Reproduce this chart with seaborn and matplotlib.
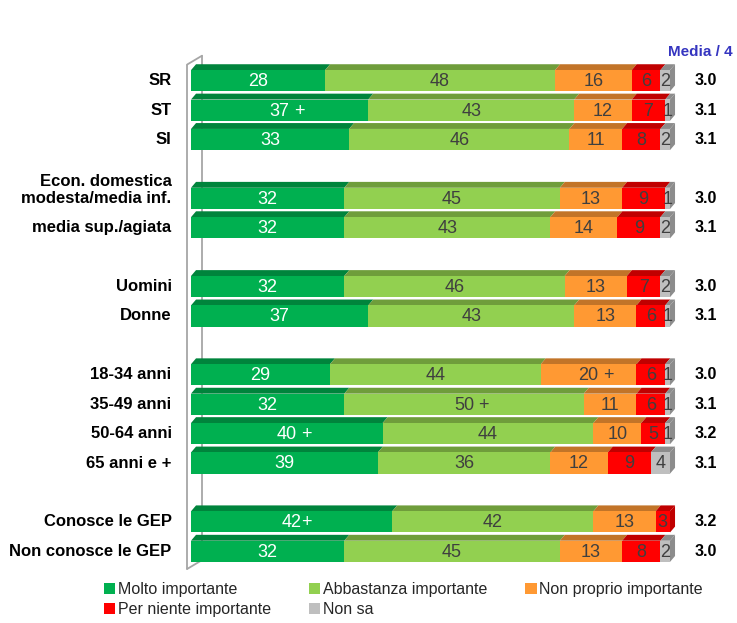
import numpy as np
import pandas as pd
import matplotlib
matplotlib.use("Agg")
import matplotlib.pyplot as plt
import seaborn as sns
from matplotlib.patches import Polygon, Patch
from matplotlib import font_manager


# ── Data ───────────────────────────────────────────────────────────────────────

labels = ["SR", "ST", "SI",
          "Econ. domestica\nmodesta/media inf.", "media sup./agiata",
          "Uomini", "Donne",
          "18-34 anni", "35-49 anni", "50-64 anni", "65 anni e +",
          "Conosce le GEP", "Non conosce le GEP"]
positions = [0, 1, 2, 4, 5, 7, 8, 10, 11, 12, 13, 15, 16]

molto       = [28, 37, 33, 32, 32, 32, 37, 29, 32, 40, 39, 42, 32]
abbastanza  = [48, 43, 46, 45, 43, 46, 43, 44, 50, 44, 36, 42, 45]
non_proprio = [16, 12, 11, 13, 14, 13, 13, 20, 11, 10, 12, 13, 13]
per_niente  = [6, 7, 8, 9, 9, 7, 6, 6, 6, 5, 9, 3, 8]
non_sa      = [2, 1, 2, 1, 2, 2, 1, 1, 1, 1, 4, 0, 2]

# significance markers appended to some numbers
molto_sig       = ["", " +", "", "", "", "", "", "", "", " +", "", "+", ""]
abbastanza_sig  = ["", "", "", "", "", "", "", "", " +", "", "", "", ""]
non_proprio_sig = ["", "", "", "", "", "", "", " +", "", "", "", "", ""]
no_sig          = [""] * 13

media = ["3.0", "3.1", "3.1", "3.0", "3.1", "3.0", "3.1",
         "3.0", "3.1", "3.2", "3.1", "3.2", "3.0"]

series_names = ["Molto importante", "Abbastanza importante",
                "Non proprio importante", "Per niente importante", "Non sa"]
colors     = ["#00B050", "#92D050", "#FF9933", "#FF0000", "#BFBFBF"]
top_colors = ["#00843C", "#6F9D3B", "#C27428", "#C00000", "#8C8C8C"]
txt_colors = ["white", "#3F3F3F", "#3F3F3F", "#3F3F3F", "#3F3F3F"]

df = pd.DataFrame({"label": labels, "pos": positions})
for name, vals in zip(series_names,
                      [molto, abbastanza, non_proprio, per_niente, non_sa]):
    df[name] = vals
sigs = [molto_sig, abbastanza_sig, non_proprio_sig, no_sig, no_sig]

values = df[series_names].to_numpy()
cum = values.cumsum(axis=1)
starts = cum - values

# ── Figure ─────────────────────────────────────────────────────────────────────

sns.set_style("white")
plt.rcParams["font.family"] = ["Liberation Sans", "DejaVu Sans"]

installed = {f.name for f in font_manager.fontManager.ttflist}
if "Liberation Sans Narrow" in installed:
    num_font, num_size = "Liberation Sans Narrow", 14.5
else:
    num_font, num_size = "Liberation Sans", 13

fig = plt.figure(figsize=(7.37, 6.23), dpi=100)
ax = fig.add_axes([191 / 737, 1 - 566 / 623, 479 / 737, 500 / 623])

BAR_W = 0.72      # face height (row units)
TOP_H = 0.20      # 3D top depth
DX = 1.05         # 3D shear (percent units)
half = BAR_W / 2

# stacked bars: draw cumulative totals from the widest down
for i in reversed(range(len(series_names))):
    df[f"cum{i}"] = cum[:, i]
    sns.barplot(data=df, x=f"cum{i}", y="pos", orient="y", native_scale=True,
                color=colors[i], saturation=1, width=BAR_W, errorbar=None,
                linewidth=0, ax=ax, zorder=3)

# 3D top faces + right side face
for r, p in enumerate(positions):
    last = None
    for i in range(len(series_names)):
        if values[r, i] <= 0:
            continue
        l, rr = starts[r, i], cum[r, i]
        ax.add_patch(Polygon([(l, p - half), (rr, p - half),
                              (rr + DX, p - half - TOP_H), (l + DX, p - half - TOP_H)],
                             closed=True, facecolor=top_colors[i], edgecolor="none",
                             zorder=2, clip_on=False))
        last = i
    end = cum[r, -1]
    ax.add_patch(Polygon([(end, p + half), (end, p - half),
                          (end + DX, p - half - TOP_H), (end + DX, p + half - TOP_H)],
                         closed=True, facecolor=top_colors[last], edgecolor="none",
                         zorder=4, clip_on=False))

# segment labels
for r, p in enumerate(positions):
    for i in range(len(series_names)):
        v = values[r, i]
        if v <= 0:
            continue
        xc = starts[r, i] + v / 2
        t = ax.text(xc, p + 0.03, str(v), ha="center", va="center",
                    fontsize=num_size, family=num_font, color=txt_colors[i],
                    zorder=5)
        suf = sigs[i][r]
        if suf:
            ax.annotate(suf, xy=(1, 0.5), xycoords=t, ha="left", va="center",
                        fontsize=num_size, family=num_font,
                        color=txt_colors[i], zorder=5)

# category labels on the left, means on the right
for lab, p, m in zip(labels, positions, media):
    nl = lab.count("\n")
    ax.annotate(lab, xy=(0, p), xytext=(-14, 6 * nl), textcoords="offset points",
                ha="right", va="center", fontsize=12, fontweight="bold",
                color="black", annotation_clip=False)
    ax.annotate(m, xy=(100, p), xytext=(26, 0), textcoords="offset points",
                ha="center", va="center", fontsize=11.5, fontweight="bold",
                color="black", annotation_clip=False)

# left wall of the 3D frame
wall = "#A6A6A6"
ax.plot([-0.8, -0.8], [-0.55, 16.6], color=wall, lw=1.3, clip_on=False, zorder=1)
ax.plot([2.3, 2.3], [-0.85, 16.3], color=wall, lw=1.3, clip_on=False, zorder=1)
ax.plot([-0.8, 2.3], [-0.55, -0.85], color=wall, lw=1.3, clip_on=False, zorder=1)
ax.plot([-0.8, 2.3], [16.6, 16.3], color=wall, lw=1.3, clip_on=False, zorder=1)

ax.set_xlim(0, 100)
ax.set_ylim(16.5, -0.5)
ax.set_xlabel("")
ax.set_ylabel("")
ax.set_xticks([])
ax.set_yticks([])
sns.despine(ax=ax, left=True, bottom=True)

fig.text(733 / 737, 1 - 52 / 623, "Media / 4", ha="right", va="center",
         fontsize=11, fontweight="bold", color="#3535C0")

# legend, filled row by row
order = [0, 3, 1, 4, 2]
handles = [Patch(facecolor=colors[i], edgecolor="none") for i in order]
fig.legend(handles, [series_names[i] for i in order], ncol=3,
           loc="upper left", bbox_to_anchor=(104 / 737, 1 - 582 / 623),
           frameon=False, fontsize=11.5, handlelength=0.7, handleheight=0.7,
           handletextpad=0.15, columnspacing=2.4, labelspacing=0.3,
           borderpad=0, borderaxespad=0)

fig.savefig("out.png", dpi=100)
